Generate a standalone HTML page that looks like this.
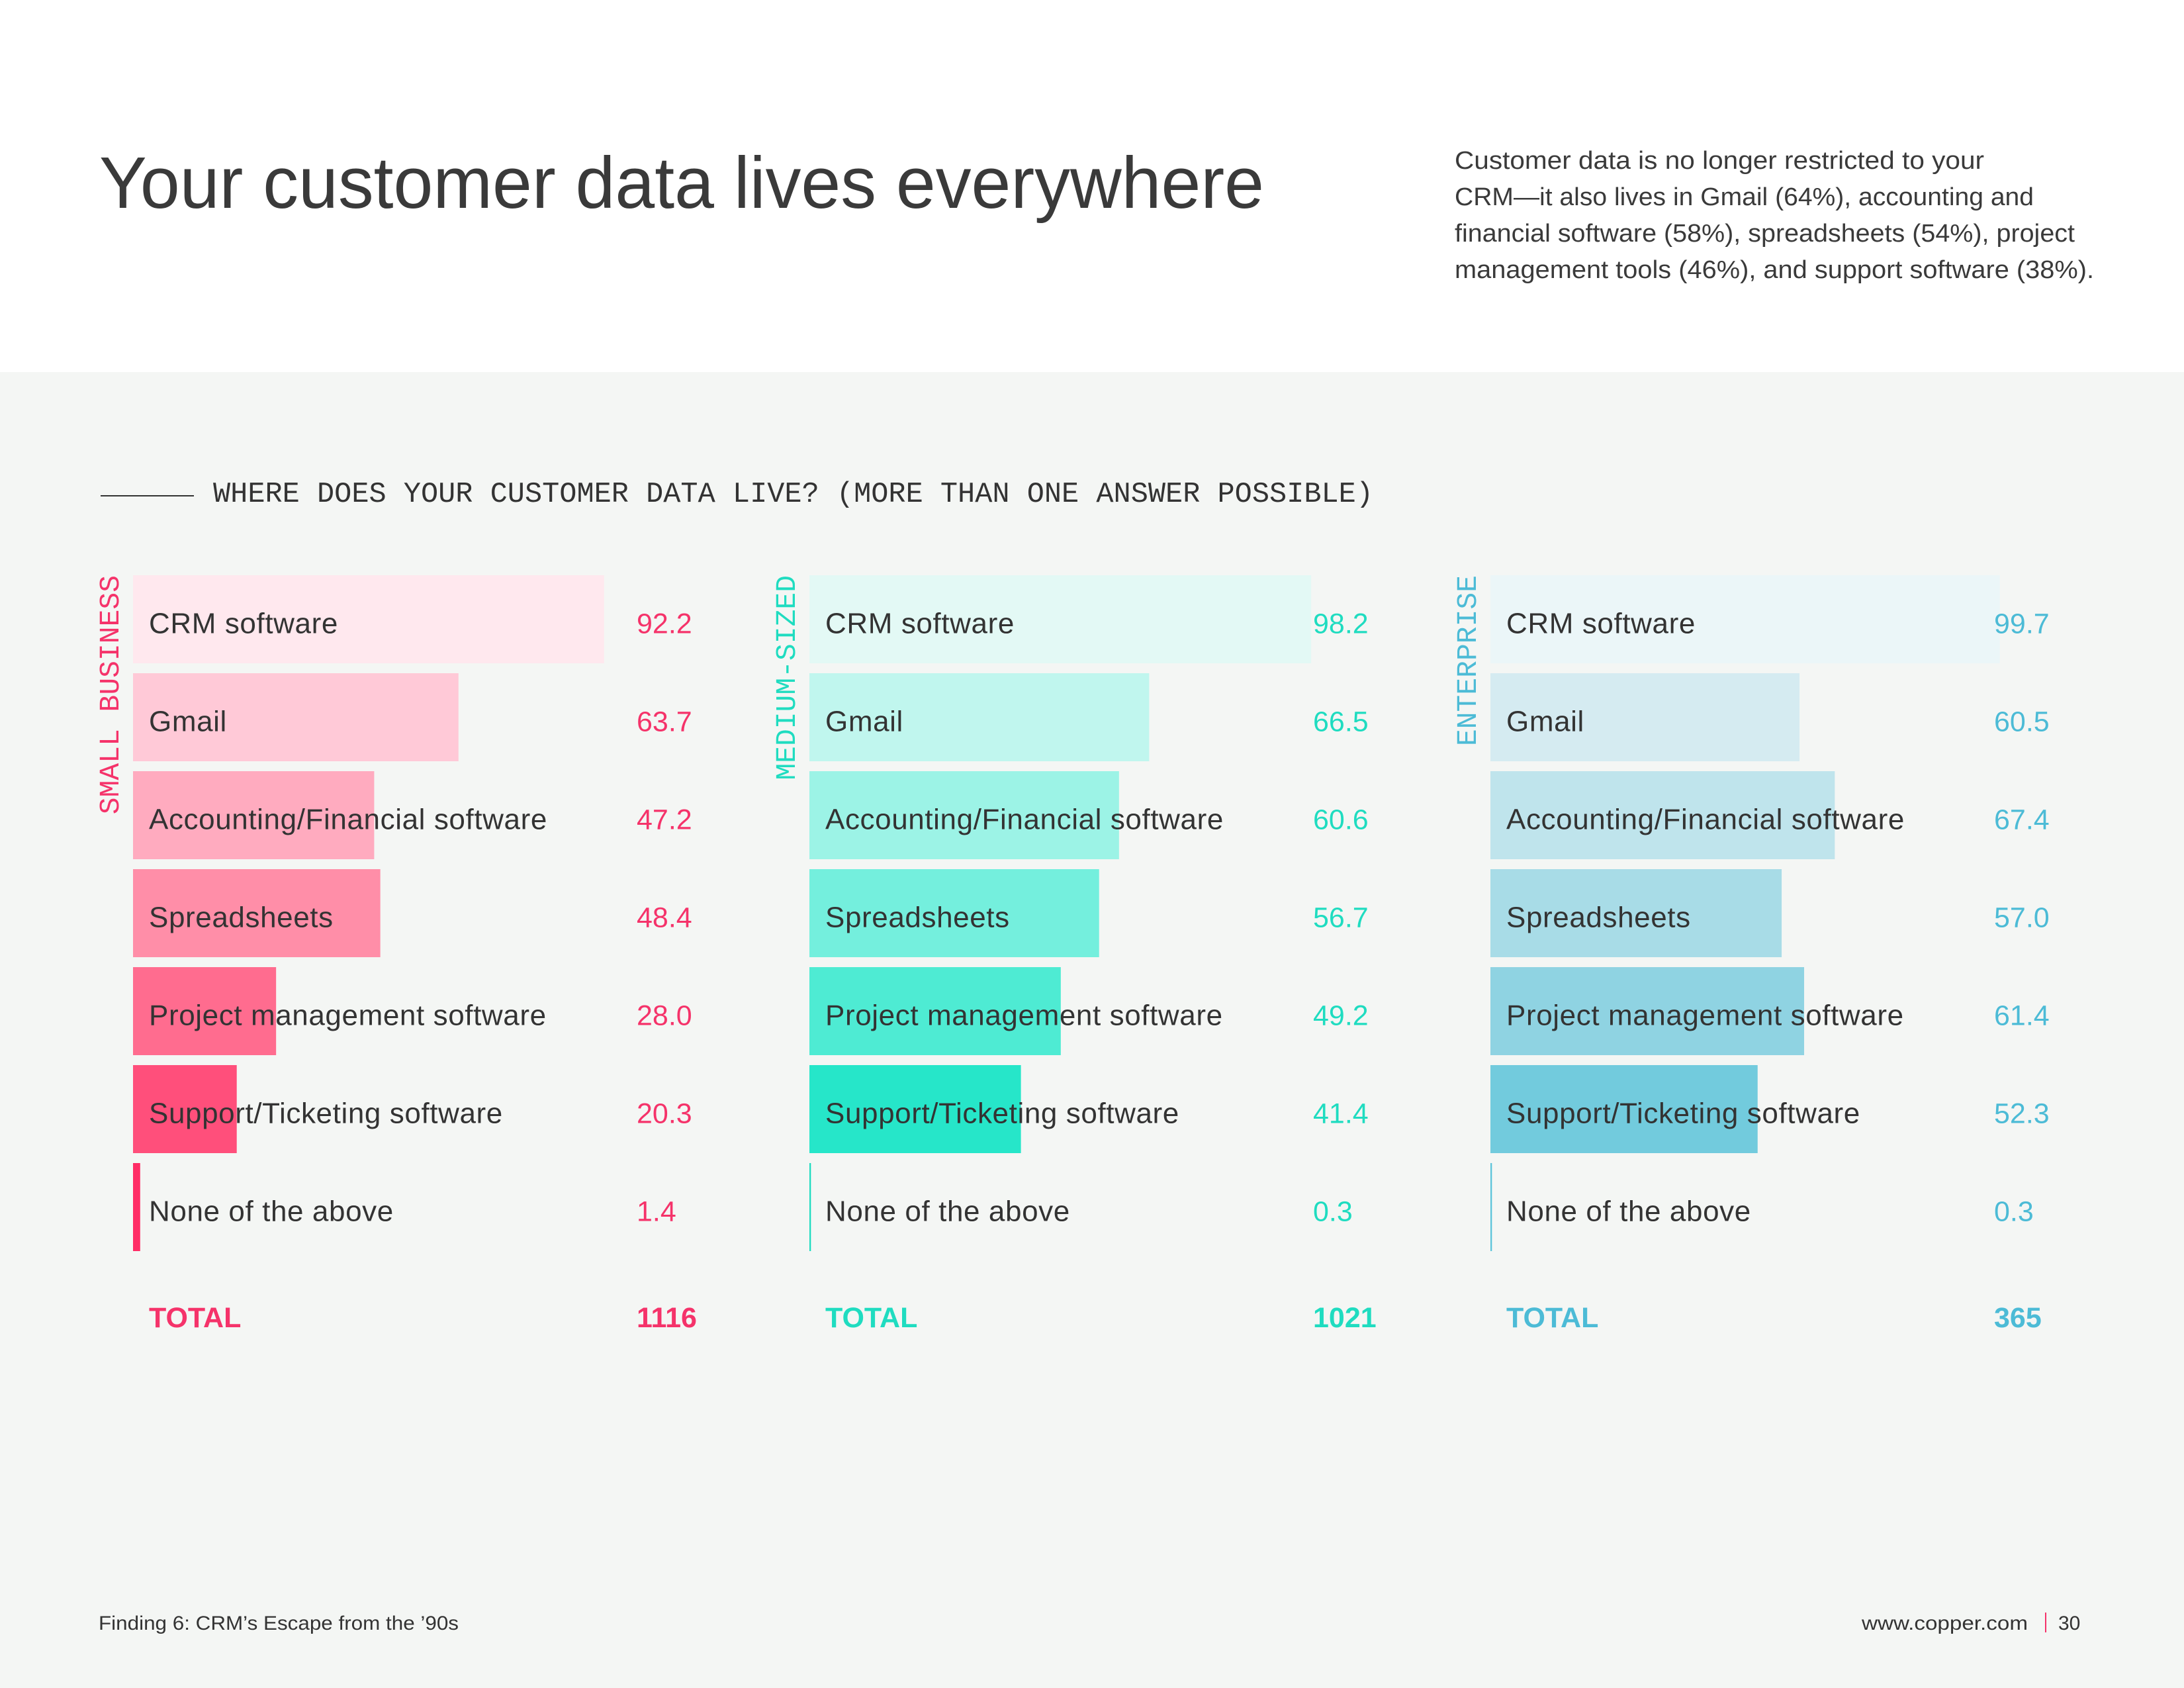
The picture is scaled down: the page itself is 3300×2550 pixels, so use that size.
<!DOCTYPE html>
<html><head><meta charset="utf-8"><style>
html,body{margin:0;padding:0;width:3300px;height:2550px;overflow:hidden;background:#fff}
svg{display:block}
text{font-family:"Liberation Sans",sans-serif}
.mono{font-family:"Liberation Mono",monospace}
</style></head><body>
<svg id="chart" width="3300" height="2550" viewBox="0 0 3300 2550" xmlns="http://www.w3.org/2000/svg">
<rect x="0" y="0" width="3300" height="562" fill="#ffffff"/>
<rect x="0" y="562" width="3300" height="1988" fill="#f4f6f4"/>
<text x="150" y="314" font-size="110" fill="#3a3a3a" textLength="1760" lengthAdjust="spacingAndGlyphs">Your customer data lives everywhere</text>
<g font-size="38" fill="#3a3a3a">
<text x="2198" y="255" textLength="800" lengthAdjust="spacingAndGlyphs">Customer data is no longer restricted to your</text>
<text x="2198" y="310" textLength="875" lengthAdjust="spacingAndGlyphs">CRM—it also lives in Gmail (64%), accounting and</text>
<text x="2198" y="365" textLength="937" lengthAdjust="spacingAndGlyphs">financial software (58%), spreadsheets (54%), project</text>
<text x="2198" y="420" textLength="966" lengthAdjust="spacingAndGlyphs">management tools (46%), and support software (38%).</text>
</g>
<line x1="152" y1="749" x2="293" y2="749" stroke="#333" stroke-width="2"/>
<text class="mono" x="322" y="758" font-size="44" fill="#333" textLength="1753" lengthAdjust="spacingAndGlyphs">WHERE DOES YOUR CUSTOMER DATA LIVE? (MORE THAN ONE ANSWER POSSIBLE)</text>
<g id="panels"></g>
<text x="149" y="2462" font-size="30" fill="#333" textLength="544" lengthAdjust="spacingAndGlyphs">Finding 6: CRM’s Escape from the ’90s</text>
<text x="2813" y="2462" font-size="30" fill="#333" textLength="251" lengthAdjust="spacingAndGlyphs">www.copper.com</text>
<line x1="3091" y1="2436" x2="3091" y2="2466" stroke="#f5336a" stroke-width="2"/>
<text x="3110" y="2462" font-size="30" fill="#333">30</text>
</svg>
<script>
const categories = ["CRM software","Gmail","Accounting/Financial software","Spreadsheets","Project management software","Support/Ticketing software","None of the above"];
const segments = ["SMALL BUSINESS","MEDIUM-SIZED","ENTERPRISE"];
const smallValues = [92.2,63.7,47.2,48.4,28.0,20.3,1.4];
const mediumValues = [98.2,66.5,60.6,56.7,49.2,41.4,0.3];
const enterpriseValues = [99.7,60.5,67.4,57.0,61.4,52.3,0.3];
const totals = [1116,1021,365];

const panelsCfg = [
  {left:201, vals:smallValues, text:"#f5336a", fills:["#ffe8ee","#ffc9d7","#ffabbf","#ff8ea8","#ff6c8f","#ff4f7b","#ff2d66"], name:"small-business"},
  {left:1223, vals:mediumValues, text:"#1fdcc0", fills:["#e3f9f5","#c0f6ee","#9cf3e6","#74efdd","#4eebd3","#26e6c9","#1fdcc0"], name:"medium-sized"},
  {left:2252, vals:enterpriseValues, text:"#4cbbd6", fills:["#ebf6f8","#d5ebf1","#bfe4ec","#a8dce7","#8fd3e2","#72cbdd","#5cc4da"], name:"enterprise"}
];
const PX_PER_UNIT = 7.72, TOP = 869, PITCH = 148, BAR_H = 133;
const xLen = v => v * PX_PER_UNIT;
const yRow = i => TOP + i * PITCH;
const NS = "http://www.w3.org/2000/svg";
const root = document.getElementById("panels");
function mk(tag, attrs, txt){const e=document.createElementNS(NS,tag);for(const k in attrs)e.setAttribute(k,attrs[k]);if(txt!=null)e.textContent=txt;return e;}

panelsCfg.forEach((p, pi) => {
  const g = mk("g", {});
  
  
  root.appendChild(g);
  const lab = mk("text", {class:"mono", x:0, y:0, "font-size":43, fill:p.text, transform:`translate(${p.left-22},${TOP}) rotate(-90)`, "text-anchor":"end"}, segments[pi]);
  
  
  g.appendChild(lab);
  categories.forEach((c, i) => {
    const w = Math.max(xLen(p.vals[i]), 2);
    const r = mk("rect", {x:p.left, y:yRow(i), width:w, height:BAR_H, fill:p.fills[i]});
    
    
    g.appendChild(r);
    const t = mk("text", {x:p.left+24, y:yRow(i)+BAR_H/2+21, "font-size":44, "letter-spacing":0.6, fill:"#333"}, c);
    
    
    g.appendChild(t);
    const v = mk("text", {x:p.left+761, y:yRow(i)+BAR_H/2+21, "font-size":43, fill:p.text}, p.vals[i].toFixed(1));
    
    
    g.appendChild(v);
  });
  const tl = mk("text", {x:p.left+24, y:2005, "font-size":43, "font-weight":"bold", fill:p.text}, "TOTAL");
  
  
  g.appendChild(tl);
  const tv = mk("text", {x:p.left+761, y:2005, "font-size":43, "font-weight":"bold", fill:p.text}, String(totals[pi]));
  
  
  g.appendChild(tv);
});
</script>
</body></html>
